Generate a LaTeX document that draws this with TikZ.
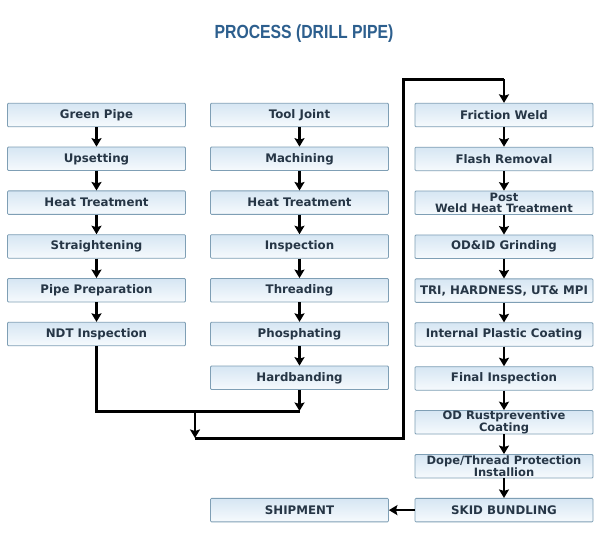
\documentclass[tikz,border=0pt]{standalone}
\usepackage{fontspec}
\setmainfont{DejaVu Sans}
\newfontfamily\titlefont{Liberation Sans}
\usetikzlibrary{arrows.meta}
\definecolor{boxline}{HTML}{7F9FB5}
\definecolor{boxtop}{HTML}{D6E6F3}
\definecolor{boxbot}{HTML}{F6FAFD}
\definecolor{txt}{HTML}{263646}
\definecolor{ttl}{HTML}{2D5F8E}
\begin{document}
\begin{tikzpicture}[x=1pt,y=-1pt,
 box/.style={draw=boxline, line width=0.8pt, rounded corners=1pt, top color=boxtop, bottom color=boxbot,
   minimum width=178pt, minimum height=23.5pt, inner sep=0pt, align=center,
   font=\fontsize{11.8}{10.8}\selectfont\bfseries, text=txt},
 twoline/.style={box, font=\fontsize{11.5}{10.6}\selectfont\bfseries},
 link/.style={line width=2.5pt, -{Stealth[length=8.5pt,width=10pt,inset=1.5pt]}},
 trunk/.style={line width=3pt}]
\useasboundingbox (0,0) rectangle (600,550);
\fill[white] (0,0) rectangle (600,550);
\node[font=\titlefont\bfseries\fontsize{19}{19}\selectfont, text=ttl] (title) at (304,34) {\scalebox{0.83}[1]{PROCESS (DRILL PIPE)}};
% column 1
\node[box] (c1a) at (96.5,115) {Green Pipe};
\node[box] (c1b) at (96.5,158.8) {Upsetting};
\node[box] (c1c) at (96.5,202.6) {Heat Treatment};
\node[box] (c1d) at (96.5,246.4) {Straightening};
\node[box] (c1e) at (96.5,290.2) {Pipe Preparation};
\node[box] (c1f) at (96.5,334) {NDT Inspection};
% column 2
\node[box] (c2a) at (299.5,115) {Tool Joint};
\node[box] (c2b) at (299.5,158.8) {Machining};
\node[box] (c2c) at (299.5,202.6) {Heat Treatment};
\node[box] (c2d) at (299.5,246.4) {Inspection};
\node[box] (c2e) at (299.5,290.2) {Threading};
\node[box] (c2f) at (299.5,334) {Phosphating};
\node[box] (c2g) at (299.5,377.8) {Hardbanding};
% column 3
\node[box] (c3a) at (504,115) {Friction Weld};
\node[box] (c3b) at (504,158.9) {Flash Removal};
\node[twoline] (c3c) at (504,202.8) {Post\\Weld Heat Treatment};
\node[box] (c3d) at (504,246.7) {OD\&ID Grinding};
\node[box] (c3e) at (504,290.6) {TRI, HARDNESS, UT\& MPI};
\node[box] (c3f) at (504,334.5) {Internal Plastic Coating};
\node[box] (c3g) at (504,378.4) {Final Inspection};
\node[twoline] (c3h) at (504,422.3) {OD Rustpreventive\\Coating};
\node[twoline] (c3i) at (504,466.2) {Dope/Thread Protection\\Installion};
\node[box] (c3j) at (504,510.1) {SKID BUNDLING};
\node[box] (ship) at (299.5,510.1) {SHIPMENT};
% arrows within columns
\foreach \a/\b in {c1a/c1b,c1b/c1c,c1c/c1d,c1d/c1e,c1e/c1f,
                   c2a/c2b,c2b/c2c,c2c/c2d,c2d/c2e,c2e/c2f,c2f/c2g,
                   c3a/c3b,c3b/c3c,c3c/c3d,c3d/c3e,c3e/c3f,c3f/c3g,c3g/c3h,c3h/c3i,c3i/c3j}
  \draw[link] (\a.south) -- (\b.north);
\draw[link] (c3j.west) -- (ship.east);
% trunk lines
\coordinate (m1) at (96.5,411);
\coordinate (m2) at (299.5,411);
\coordinate (j) at (195,411);
\coordinate (b1) at (195,438);
\coordinate (b2) at (403,438);
\coordinate (t1) at (403,79);
\coordinate (t2) at (504,79);
\draw[trunk] (c1f.south) -- (m1) -- (m2);
\draw[link] (c2g.south) -- (m2);
\draw[link] (j) -- (b1);
\draw[trunk] (b1) -- (b2) -- (t1) -- (t2);
\draw[link] (t2) -- (c3a.north);
\end{tikzpicture}
\end{document}
